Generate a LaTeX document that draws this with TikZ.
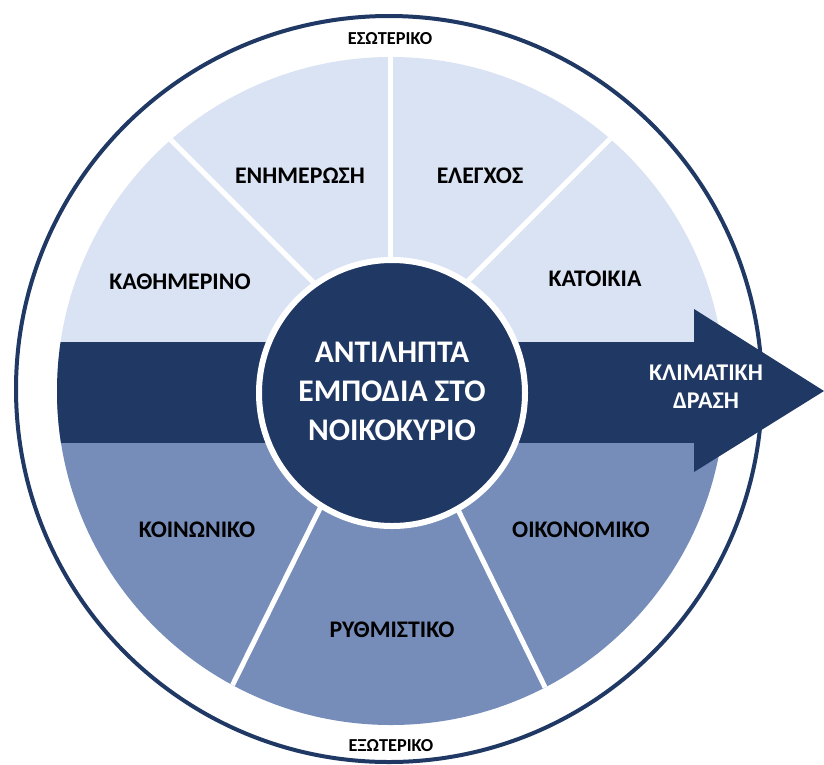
\documentclass[tikz,border=0pt]{standalone}
\usepackage{fontspec}
\setmainfont{Carlito}
\definecolor{navy}{RGB}{31,56,100}
\definecolor{lightb}{RGB}{218,227,243}
\definecolor{midb}{RGB}{118,141,186}
\begin{document}
\begin{tikzpicture}[x=1pt,y=-1pt,
  seclabel/.style={font=\bfseries\fontsize{23.8}{28}\selectfont, text=black, inner sep=0pt, anchor=center},
  ringlabel/.style={font=\bfseries\fontsize{18.3}{20}\selectfont, text=black, inner sep=0pt},
  sepline/.style={white, line width=5pt}]
\useasboundingbox (0,0) rectangle (824,764);
\fill[white] (0,0) rectangle (824,764);
% outer ring
\draw[navy, line width=4pt] (389,389) circle[radius=373pt];
% sector disk
\begin{scope}
  \clip (391,391) circle[radius=334pt];
  \fill[lightb] (0,0) rectangle (824,392);
  \fill[midb] (0,392) rectangle (824,764);
  \coordinate (P) at (390,359);
  \coordinate (Q) at (389,369);
  \draw[sepline] (P) -- ++(-420,-420);
  \draw[sepline] (P) -- ++(420,-420);
  \draw[sepline] (P) -- (390,0);
  \draw[sepline] (Q) -- (187.5,776);
  \draw[sepline] (Q) -- (590.5,780);
  \fill[navy] (0,342) rectangle (700,443);
\end{scope}
% arrow head
\fill[navy] (694,309) -- (824,391) -- (694,472) -- cycle;
% hub
\node[circle, fill=navy, draw=white, line width=6pt, minimum size=266pt, inner sep=0pt] (hub) at (392,393) {};
\node[font=\bfseries\fontsize{31.5}{39}\selectfont, text=white, align=center, inner sep=0pt] (hubtext) at (392,391) {ΑΝΤΙΛΗΠΤΑ\\ΕΜΠΟΔΙΑ ΣΤΟ\\ΝΟΙΚΟΚΥΡΙΟ};
\node[font=\bfseries\fontsize{24}{28}\selectfont, text=white, align=center, inner sep=0pt] (action) at (706,387) {ΚΛΙΜΑΤΙΚΗ\\ΔΡΑΣΗ};
% sector labels
\node[seclabel] (kath) at (180,282) {ΚΑΘΗΜΕΡΙΝΟ};
\node[seclabel] (enim) at (300,176) {ΕΝΗΜΕΡΩΣΗ};
\node[seclabel] (eleg) at (480,176) {ΕΛΕΓΧΟΣ};
\node[seclabel] (kato) at (595,279) {ΚΑΤΟΙΚΙΑ};
\node[seclabel] (koin) at (197,530) {ΚΟΙΝΩΝΙΚΟ};
\node[seclabel] (oiko) at (581,530) {ΟΙΚΟΝΟΜΙΚΟ};
\node[seclabel] (ryth) at (392,630) {ΡΥΘΜΙΣΤΙΚΟ};
% ring labels
\node[ringlabel] (eso) at (390,39) {ΕΣΩΤΕΡΙΚΟ};
\node[ringlabel] (exo) at (391,746) {ΕΞΩΤΕΡΙΚΟ};
\end{tikzpicture}
\end{document}
